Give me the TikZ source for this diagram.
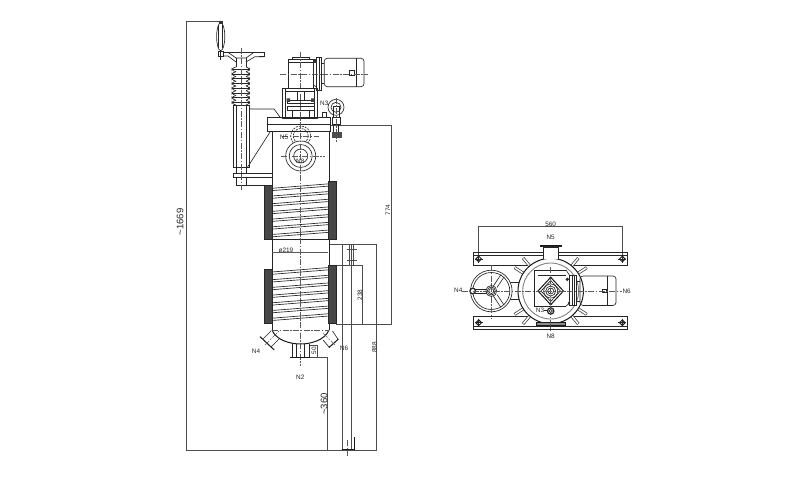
\documentclass[tikz,border=0pt]{standalone}
\usepackage{fontspec}
\setmainfont{Liberation Sans}
\begin{document}
\begin{tikzpicture}[x=1pt,y=-1pt,
  ln/.style={line width=0.65pt,draw=black!85},
  hv/.style={line width=1pt,draw=black!90},
  dim/.style={line width=0.55pt,draw=black!70},
  ctr/.style={line width=0.45pt,draw=black!65,dash pattern=on 6pt off 1.5pt on 1.5pt off 1.5pt},
  dk/.style={fill=black!72,draw=black!85,line width=0.4pt},
  lb/.style={font=\fontsize{6.4}{7}\selectfont,text=black!85,inner sep=0pt},
  lbig/.style={font=\fontsize{9.5}{10}\selectfont,text=black!85,inner sep=0pt,rotate=90}]
\useasboundingbox[fill=white] (0,0) rectangle (800,500);

% ---------- dimension lines, side view
\draw[dim] (219,21.5) -- (186.5,21.5) -- (186.5,450) -- (376.7,450) -- (376.7,244.3) -- (329,244.3);
\draw[dim] (330,125.7) -- (391,125.7) -- (391,324) -- (336,324);
\draw[dim] (336,265) -- (362.7,265) -- (362.7,324);
\draw[dim] (342.7,244.3) -- (342.7,450);
\draw[dim] (349.3,244.3) -- (349.3,265);
\draw[dim] (351.7,244.3) -- (351.7,449);
\draw[dim] (353.5,244.3) -- (353.5,265);
\draw[dim] (347,249) -- (357,249) (347,260.7) -- (357,260.7);
\draw[hv] (341.7,449.3) -- (354,449.3) -- (354,436.7);
\draw[ctr] (347.7,440) -- (347.7,456);
\draw[dim] (310,357.7) -- (327.7,357.7) -- (327.7,450);
\draw[dim] (309,345) -- (317.3,345) -- (317.3,357.7);

% ---------- handwheel and column
\draw[ln,fill=white] (220.7,36.7) ellipse (4.1 and 14);
\draw[ln] (218.7,25) -- (218.7,48) (222.7,25) -- (222.7,48);
\fill[black!80] (219,21.5) rectangle (222.5,24);
\draw[ln] (218,51.5) rectangle (223,56);
\draw[ln] (220.7,50) -- (220.7,60);
\draw[ln] (223,52.3) -- (264,52.3) -- (264,56.7) -- (259,56.7);
\draw[ln] (223,56) -- (228,56) -- (236,62);
\draw[ln] (228,52.3) -- (236,58) -- (246,58) -- (254,52.3);
\draw[ln] (246,62) -- (255,56.7) -- (264,56.7);
\draw[ln] (236,58) -- (236,67) (246,58) -- (246,67);
\foreach \y in {67,71.75,...,100.5}{
  \draw[ln,rounded corners=1.5pt] (236,\y) -- (232,\y+1.4) -- (232,\y+3.2) -- (236,\y+4.75);
  \draw[ln,rounded corners=1.5pt] (246,\y) -- (249.5,\y+1.4) -- (249.5,\y+3.2) -- (246,\y+4.75);
  \draw[ln] (232.5,\y+2.3) -- (249,\y+2.3);
}
\draw[ln] (233,105) rectangle (249,167);
\draw[ln] (236,105) -- (236,167) (246,105) -- (246,167);
\draw[ln] (236,167) -- (236,173.5) (246,167) -- (246,173.5);
\draw[ln] (233,173.5) rectangle (272,177);
\draw[ln] (236,177) -- (236,185) -- (272,185);
\draw[ln] (246,177) -- (246,185);
\draw[ctr] (241,48) -- (241,190);
% braces
\draw[ln] (249,109) -- (274,109) -- (280,117);
\draw[ln] (247,168) -- (270.7,131);

% ---------- vessel
\draw[ln] (272,131) -- (272,330) (329,131) -- (329,330);
\draw[ln] (267,117) rectangle (330,131);
\draw[ln] (267,124) -- (330,124);
\draw[hv] (272,330) .. controls (276,340) and (290,344) .. (300.5,344) .. controls (311,344) and (325,340) .. (329,330);
\draw[ctr] (272,330.7) -- (329,330.7);

% ---------- coils and jackets
\foreach \t in {0,...,6}{
  \pgfmathsetmacro{\ya}{188.3+7.7*\t}
  \pgfmathsetmacro{\yb}{272+7.7*\t}
  \foreach \yy in {\ya,\yb}{
    \draw[ln] (272,\yy) -- (329,\yy-4.5);
    \draw[ln] (272,\yy+2.3) -- (329,\yy-2.2);
    \fill[black!85] (271.5,\yy) circle (0.7) (329,\yy-4.2) circle (0.7);
  }
}
\draw[dk] (264.3,185) rectangle (271.7,239.3);
\draw[dk] (328.3,181) rectangle (336,239.3);
\draw[dk] (264.3,269.3) rectangle (271.7,323.3);
\draw[dk] (328.3,265) rectangle (336,323.3);
\draw[ln] (272,239.3) -- (329,239.3);
\draw[hv,draw=black!65] (272,252.7) -- (328,252.7);

% ---------- N5, N8 nozzles (side)
\draw[ln,dash pattern=on 2pt off 1pt] (300.7,136) circle (10);
\draw[ln,dash pattern=on 2pt off 1pt] (300.7,136) circle (7.5);
\draw[ln,fill=white] (300.7,156) circle (15);
\draw[ln] (300.7,156) circle (11.5);
\draw[ln] (300.7,156) circle (7);
\draw[ctr] (282,136) -- (319,136);
\draw[ctr] (281,156) -- (325,156);
\draw[ctr] (300.7,112) -- (300.7,366);

% ---------- bottom nozzles
\draw[ln] (292.3,344) -- (292.3,357.3) (309,344) -- (309,357.3);
\draw[ln] (296.5,344) -- (296.5,357.3) (304.5,344) -- (304.5,357.3);
\draw[hv] (290,357.4) -- (310,357.4);
\draw[ln] (263,339) -- (271,331) (271,347) -- (279,339);
\draw[hv] (260,336.7) -- (274.3,350);
\draw[ctr] (265,345) -- (280,330);
\draw[ln] (332.5,331) -- (338,339.3) (323,340) -- (329.3,347.3);
\draw[hv] (338.4,339) -- (329,347.6);
\draw[ctr] (335,345) -- (322,332);

% ---------- motor, gearbox, stand
\draw[ln] (288.3,59.3) rectangle (313.3,88.3);
\draw[ln] (288.3,62.7) -- (313.3,62.7) (292,59.3) -- (292,57) -- (309,57) -- (309,59.3);
\draw[ln] (313.3,62) -- (316.7,60) (313.3,85) -- (316.7,87);
\draw[ln] (316.7,57.3) rectangle (321.7,90.7);
\draw[ln] (319,57.3) -- (319,90.7);
\draw[ln] (321.7,63) -- (324.3,63) (321.7,83) -- (324.3,83);
\fill[black!80] (313.5,59) rectangle (316.7,63);
\draw[ln,rounded corners=3pt] (324.3,58.3) -- (364,58.3) -- (364,86.7) -- (324.3,86.7) -- cycle;
\draw[ln] (356,58.3) -- (356,86.7);
\draw[ln] (349.3,70.7) rectangle (354.3,75);
\draw[ctr] (280,74.3) -- (368,74.3);
\draw[ctr] (300.5,52) -- (300.5,118);
\draw[ln] (282.3,88.3) rectangle (317.7,118.3);
\draw[ln] (285.7,91.7) -- (314.3,91.7);
\draw[ln] (285.7,88.3) -- (285.7,118.3) (314.3,88.3) -- (314.3,118.3);
\draw[ln] (287,100) rectangle (314,103) (287,106) rectangle (314,110);
\draw[ln] (297,91.7) -- (297,100) (304,91.7) -- (304,100);
\draw[ln] (292,110) -- (292,118.3) (309,110) -- (309,118.3);
\fill[black!75] (286.5,98.5) rectangle (290,102) (311,98.5) rectangle (314.5,102);
\draw[ln] (322.3,112) rectangle (326,117);

% ---------- N3 (side)
\draw[ln] (336,107.3) circle (8);
\draw[ln] (336,107.3) circle (5);
\draw[ln] (333,106) rectangle (339,117);
\draw[ln] (332.3,117) rectangle (340.7,124) (333.5,124) rectangle (338.3,133);
\draw[ctr] (336,98) -- (336,142);
\fill[black!70] (332,132) rectangle (342,138);

% ---------- plan view
\draw[dim] (478.7,260) -- (478.7,226.7) -- (622.3,226.7) -- (622.3,260);
\foreach \yt/\yi/\yo in {252.7/255/265,329/326.5/316.7}{
  \draw[hv] (473.3,\yt) -- (627.7,\yt);
  \draw[ln] (473.3,\yi) -- (627.7,\yi);
  \draw[ln] (473.3,\yt) rectangle (627.7,\yo);
}
\foreach \px/\py in {478.7/259,622.3/259,478.7/322.7,622.3/322.7}{
  \draw[hv] (\px-2.8,\py) -- (\px,\py-2.8) -- (\px+2.8,\py) -- (\px,\py+2.8) -- cycle;
  \draw[ln] (\px-4,\py) -- (\px+4,\py) (\px,\py-4) -- (\px,\py+4);
}
% stubs on vessel
\foreach \a in {50,130,230,310,33,147,213,327}{
  \draw[line width=3pt,draw=black!75] ({550.7+32*cos(\a)},{291+32*sin(\a)}) -- ({550.7+43*cos(\a)},{291+43*sin(\a)});
  \draw[line width=1.5pt,draw=white] ({550.7+32*cos(\a)},{291+32*sin(\a)}) -- ({550.7+42.5*cos(\a)},{291+42.5*sin(\a)});
}
% hand wheel & link
\draw[ln] (505,282.7) -- (531.7,282.7) -- (531.7,299.3) -- (505,299.3);
\draw[ln] (519,282.7) -- (519,299.3);
\foreach \px/\py in {521/286,527.3/286,521/295.7,527.3/295.7}{
  \draw[line width=1pt,draw=black!85] (\px,\py) circle (1.7);
}
\draw[ln,fill=white] (491.3,291) circle (20.8);
\draw[ln] (491.3,291) circle (18.5);
\draw[ln] (493.5,285.8) -- (501,274.5) (497,287.5) -- (504,277);
\draw[ln] (493.5,296.2) -- (501,307.5) (497,294.5) -- (504,305);
\draw[ln] (475,289) -- (487,289) (475,293) -- (487,293);
\draw[ln,fill=white] (491.3,291) circle (5.5);
\draw[ln] (491.3,291) circle (4);
\draw[ln] (491.3,291) circle (2.5);
\draw[line width=1.3pt,draw=black!85,fill=white] (472.7,291) circle (2.8);
% vessel plan
\draw[hv,fill=white] (550.7,291) circle (32.7);
\draw[line width=0.9pt,draw=black!50] (550.7,291) circle (28);
% N5 / N8 plan
\draw[ln,fill=white] (543.3,258.5) -- (543.3,247) -- (558.3,247) -- (558.3,258.5);
\draw[hv] (540,245) -- (561.7,245);
\draw[ln] (540,246.8) -- (561.7,246.8);
\draw[hv,fill=black!45] (536,322.3) rectangle (565,325);
% inner square, gear plate
\draw[ln,fill=white] (566,270) -- (534,270) -- (534,306) -- (566,306);
\draw[ln] (538,275) -- (566,275);
\draw[ln] (566,270) -- (570,276) (566,306) -- (570,303);
\draw[ln,fill=white] (569.3,275) rectangle (576.7,305);
\draw[ln] (572,275) -- (572,305) (574.5,275) -- (574.5,305);
\fill[black!85] (567.3,279.3) circle (1.8) (569,303) circle (1.4);
\draw[ln] (576.7,281) -- (580,281) (576.7,301) -- (580,301);
\draw[ln,rounded corners=3pt] (580,276) -- (616,276) -- (616,305.5) -- (580,305.5) -- cycle;
\draw[ln] (607.7,276) -- (607.7,305.5);
\draw[ln] (602.7,289.3) rectangle (606.7,292.7);
% diamond
\draw[hv,fill=white] (538,291) -- (550.7,277.3) -- (563.4,291) -- (550.7,304.7) -- cycle;
\draw[ln] (541,291) -- (550.7,280.5) -- (560.4,291) -- (550.7,301.5) -- cycle;
\draw[ln] (550.7,291) circle (7);
\draw[ln] (550.7,291) circle (5);
\draw[ln] (550.7,291) circle (3);
\fill[black!85] (550.7,278) circle (1.5) (550.7,304) circle (1.5);
% centre lines plan
\draw[ctr] (462,291) -- (622,291);
\draw[ctr] (491.3,265) -- (491.3,318);
\draw[ctr] (550.7,267) -- (550.7,331);
% N3 plan
\draw[line width=1.2pt,draw=black!85,fill=white] (550.7,311) circle (3.2);
\draw[ln] (550.7,311) circle (1.6);
\draw[ln] (543.5,310.5) -- (547.5,310.5);

% ---------- labels
\node[lb] (n5s) at (284,137) {N5};
\node[lb] (n8s) at (300.3,161.5) {N8};
\node[lb] (n3s) at (324.3,103) {N3};
\node[lb] (d219) at (286,250.3) {ø219};
\node[lb,rotate=90] (d774) at (388,210) {774};
\node[lb,rotate=90] (d238) at (360,295) {238};
\node[lb,rotate=90] (d888) at (374.3,347.5) {888};
\node[lb,rotate=90] (d50) at (314,350.5) {50};
\node[lb] (n4s) at (256,351) {N4};
\node[lb] (n6s) at (344,348) {N6};
\node[lb] (n2s) at (300.3,377) {N2};
\node[lbig] (d360) at (324,404) {\textasciitilde 360};
\node[lbig] (d1669) at (180,222) {\textasciitilde 1669};
\node[lb] (d560) at (550.7,224) {560};
\node[lb] (n5p) at (550.7,237) {N5};
\node[lb] (n4p) at (458.3,290.5) {N4};
\node[lb] (n6p) at (626.7,291) {N6};
\node[lb] (n8p) at (550.7,336.7) {N8};
\node[lb] (n3p) at (540,310) {N3};
\end{tikzpicture}
\end{document}
